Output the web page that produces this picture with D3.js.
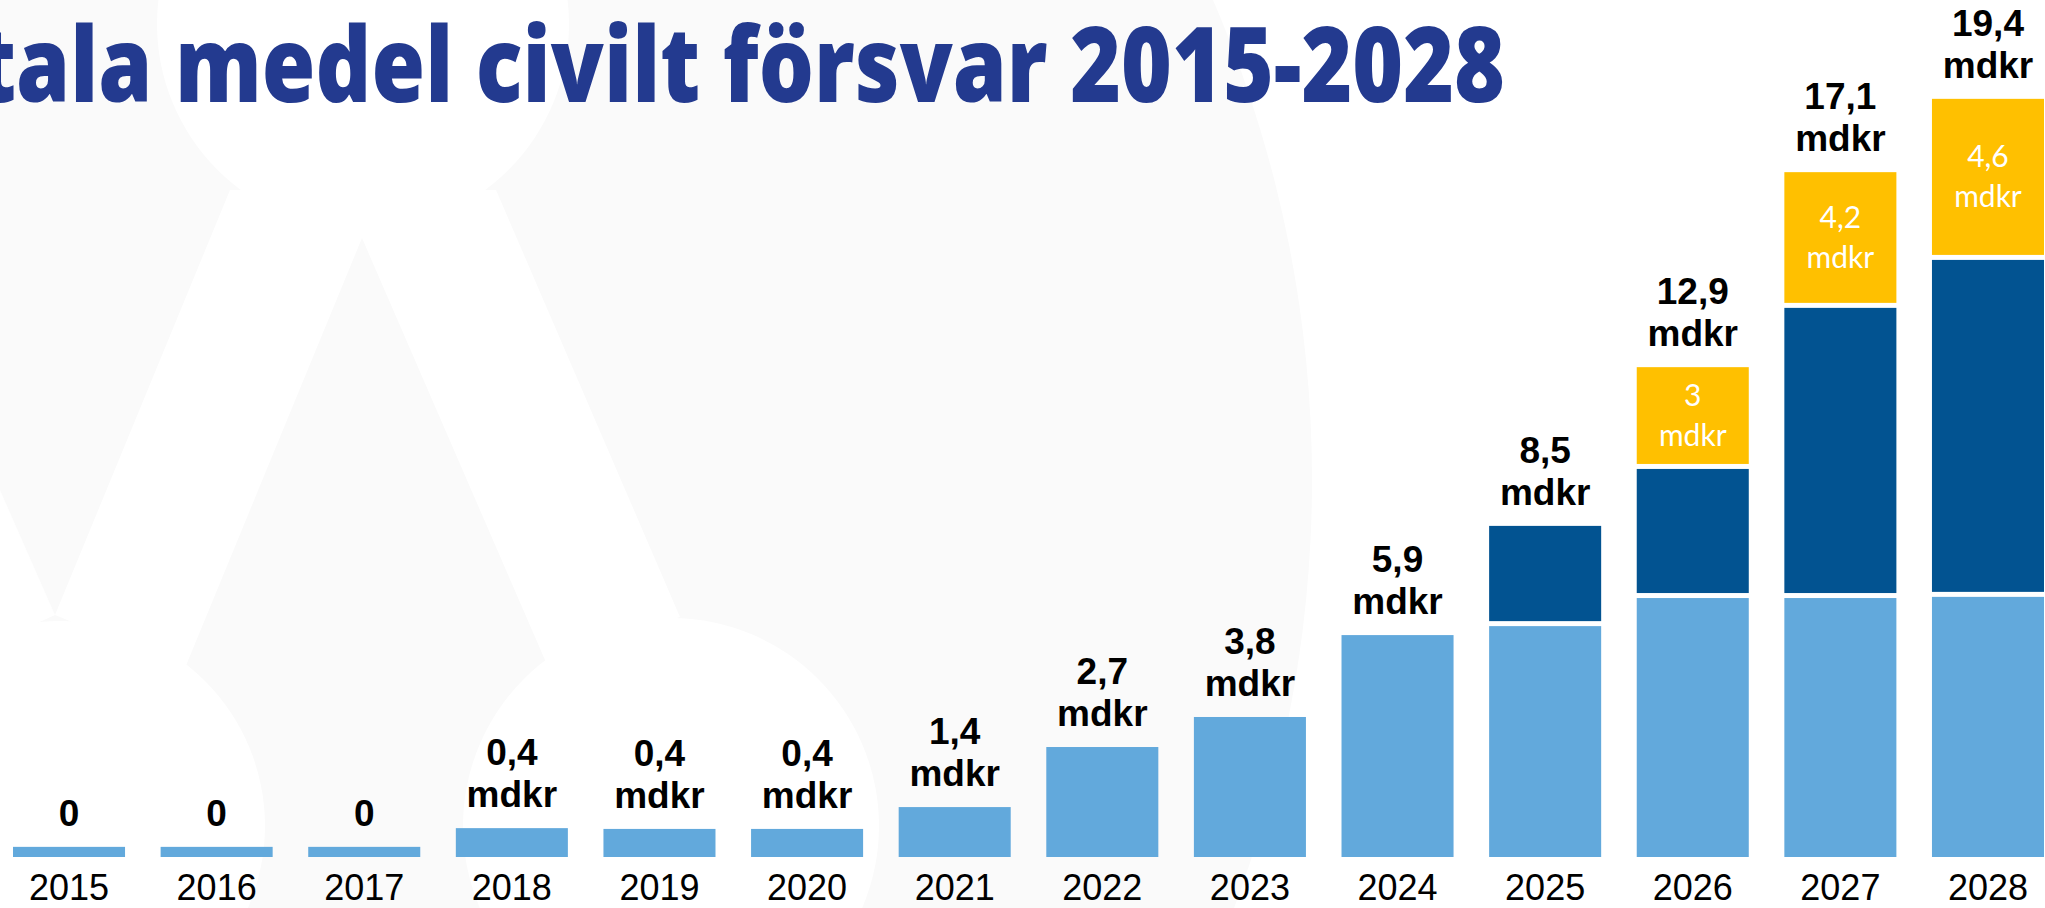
<!DOCTYPE html>
<html>
<head>
<meta charset="utf-8">
<script src="https://cdn.jsdelivr.net/npm/d3@7"></script>
<style>
  body { margin: 0; background: #fff; overflow: hidden; }
  svg { display: block; }
</style>
</head>
<body>
<svg width="2045" height="908"></svg>
<script>
// **** Data ****
const titleText = 'Totala medel civilt försvar 2015-2028';
const years = ['2015', '2016', '2017', '2018', '2019', '2020', '2021',
               '2022', '2023', '2024', '2025', '2026', '2027', '2028'];
// bar parts in mdkr, as drawn on the slide
const baseValues  = [0.26, 0.26, 0.26, 0.74, 0.72, 0.72, 1.28, 2.82, 3.59, 5.69, 5.92, 6.64, 6.64, 6.67];
const addedValues = [0, 0, 0, 0, 0, 0, 0, 0, 0, 0, 2.57, 3.31, 7.44, 8.64];
const extraValues = [0, 0, 0, 0, 0, 0, 0, 0, 0, 0, 0, 2.61, 3.48, 4.13];
const totalLabels = ['0', '0', '0', '0,4', '0,4', '0,4', '1,4', '2,7', '3,8', '5,9', '8,5', '12,9', '17,1', '19,4'];
const extraLabels = ['', '', '', '', '', '', '', '', '', '', '', '3', '4,2', '4,6'];
const unitLabel = 'mdkr';

const colors = { base: '#62a9dc', added: '#025391', extra: '#ffc000' };
const labelFont = '"Liberation Sans", Arial, sans-serif';
const titleFont = '"Open Sans", Lato, sans-serif';

const width = 2045, height = 908;
const gap = 5;

const svg = d3.select('svg');

// **** Faint logo in the background ****
svg.append('rect').attr('width', width).attr('height', height).attr('fill', '#fff');
svg.append('circle').attr('cx', 99).attr('cy', 480).attr('r', 1213).attr('fill', '#fafafa');
const logo = svg.append('g').attr('fill', '#fff');
logo.append('circle').attr('cx', 363).attr('cy', 24).attr('r', 206);
logo.append('circle').attr('cx', 60).attr('cy', 826).attr('r', 205);
logo.append('circle').attr('cx', 671).attr('cy', 826).attr('r', 208);
logo.append('path').attr('d', 'M 230 190 L 55 615 L 185 668 L 362 238 L 545 660 L 680 617 L 496 190 Z');
logo.append('path').attr('d', 'M 0 490 L 55 615 L 0 640 Z');

// **** Title ****
const title = svg.append('text')
    .attr('font-family', titleFont)
    .attr('font-weight', 800)
    .attr('font-size', 104)
    .attr('fill', '#233a8f')
    .attr('text-anchor', 'end')
    .text(titleText);

const probe = svg.append('text')
    .attr('font-family', titleFont)
    .attr('font-weight', 800)
    .attr('font-size', 104)
    .text(titleText.slice(3));
const probeWidth = probe.node().getComputedTextLength();
probe.remove();
title.attr('transform', `translate(1505,102) scale(${(1505 - 16) / probeWidth},1)`);

// **** Scales ****
const x = d3.scaleBand().domain(years).range([13, 2044]).paddingInner(0.241).paddingOuter(0);
const y = d3.scaleLinear().domain([0, 20]).range([857, 77]);

const rows = years.map((year, i) => ({
    year: year, base: baseValues[i], added: addedValues[i], extra: extraValues[i]
}));
const series = d3.stack().keys(['base', 'added', 'extra'])(rows);

// **** Bars ****
series.forEach((s, si) => {
    svg.append('g')
        .selectAll('rect')
        .data(s.filter(d => d[1] - d[0] > 0))
        .join('rect')
        .attr('x', d => x(d.data.year))
        .attr('width', x.bandwidth())
        .attr('y', d => y(d[1]))
        .attr('height', d => y(d[0]) - y(d[1]) - (si > 0 ? gap : 0))
        .attr('fill', colors[s.key]);
});

// **** Total labels above bars ****
const topSeries = series[series.length - 1];
years.forEach((year, i) => {
    const cx = x(year) + x.bandwidth() / 2;
    const topY = y(topSeries[i][1]);
    const lines = totalLabels[i] === '0' ? [totalLabels[i]] : [totalLabels[i], unitLabel];
    const t = svg.append('text')
        .attr('font-family', labelFont)
        .attr('font-weight', 700)
        .attr('font-size', 37)
        .attr('fill', '#000')
        .attr('text-anchor', 'middle');
    lines.forEach((line, li) => {
        t.append('tspan')
            .attr('x', cx)
            .attr('y', topY - 21 - (lines.length - 1 - li) * 42)
            .text(line);
    });
});

// **** Labels inside the yellow parts ****
years.forEach((year, i) => {
    if (!extraLabels[i]) return;
    const d = series[2][i];
    const cy = (y(d[0]) - gap + y(d[1])) / 2;
    const t = svg.append('text')
        .attr('font-family', 'Lato, sans-serif')
        .attr('font-size', 30)
        .attr('fill', '#fff')
        .attr('text-anchor', 'middle');
    t.append('tspan').attr('x', x(year) + x.bandwidth() / 2).attr('y', cy - 10).text(extraLabels[i]);
    t.append('tspan').attr('x', x(year) + x.bandwidth() / 2).attr('y', cy + 30).text(unitLabel);
});

// **** Year axis ****
svg.append('g')
    .attr('transform', 'translate(0,900)')
    .call(d3.axisBottom(x).tickSize(0).tickPadding(0))
    .call(g => g.select('.domain').remove())
    .selectAll('text')
    .attr('y', 0)
    .attr('dy', 0)
    .attr('font-family', labelFont)
    .attr('font-size', 36)
    .attr('fill', '#000');
</script>
</body>
</html>
